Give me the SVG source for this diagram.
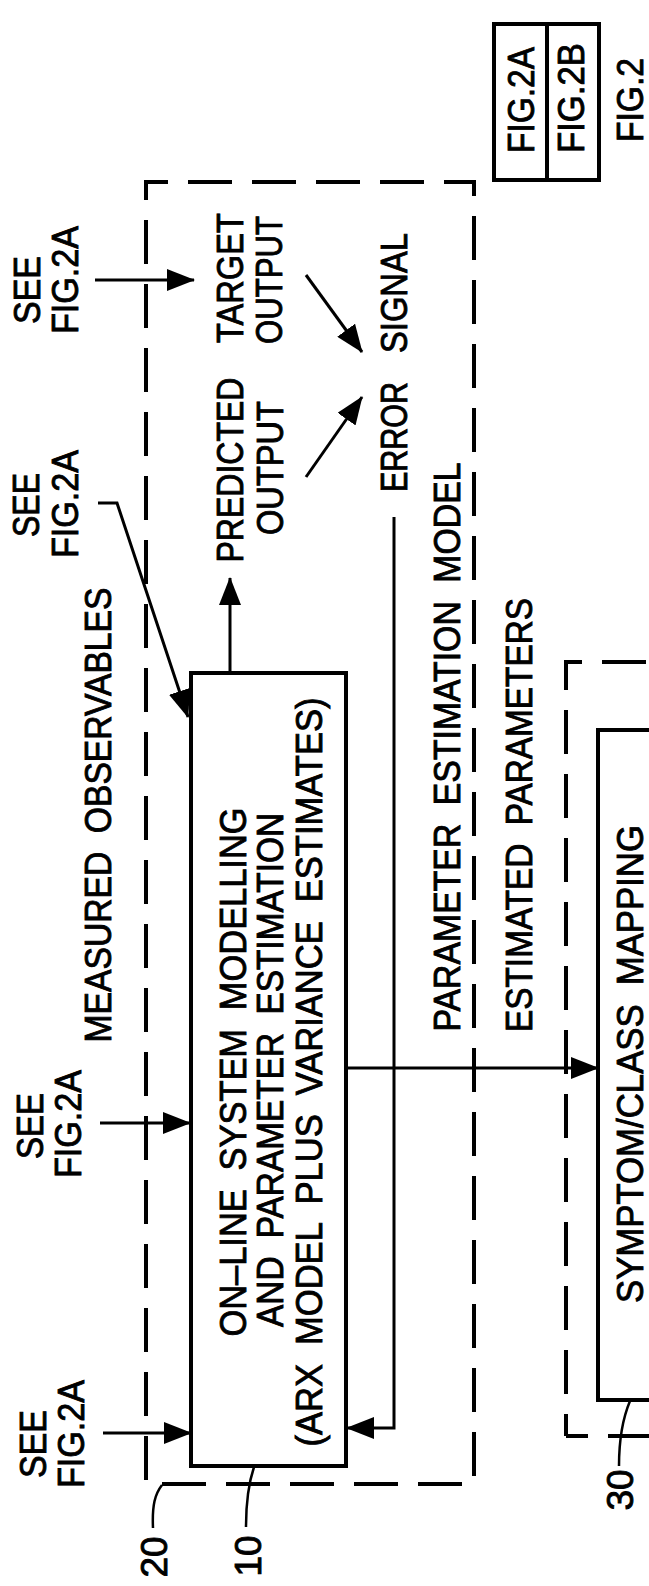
<svg xmlns="http://www.w3.org/2000/svg" width="649" height="1586" viewBox="0 0 649 1586">
<style>
.t{font-family:"Liberation Sans",Arial,Helvetica,sans-serif;font-size:37px;fill:#000;stroke:#000;stroke-width:0.9;word-spacing:10px}
.box{fill:none;stroke:#000;stroke-width:4}
.dash{fill:none;stroke:#000;stroke-width:4;stroke-dasharray:44 20}
.c{fill:none;stroke:#000;stroke-width:3}
.ld{fill:none;stroke:#000;stroke-width:2.5}
</style>
<defs>
<marker id="ah" markerUnits="userSpaceOnUse" viewBox="0 0 28 22" markerWidth="28" markerHeight="22" refX="27" refY="11" orient="auto"><path d="M0,0 L28,11 L0,22 z" fill="#000"/></marker>
</defs>
<rect width="649" height="1586" fill="#fff"/>

<g id="fig-key">
<rect class="box" x="494" y="24" width="105" height="156"/>
<line class="box" x1="547" y1="24" x2="547" y2="180"/>
<text class="t" transform="translate(521,100) rotate(-90)" y="13" text-anchor="middle" textLength="106" lengthAdjust="spacingAndGlyphs">FIG.2A</text>
<text class="t" transform="translate(571,98) rotate(-90)" y="13" text-anchor="middle" textLength="110" lengthAdjust="spacingAndGlyphs">FIG.2B</text>
<text class="t" transform="translate(630,100) rotate(-90)" y="13" text-anchor="middle" textLength="84" lengthAdjust="spacingAndGlyphs">FIG.2</text>
</g>

<g id="node-20">
<path class="dash" d="M146,182 H474 V1484 H146 Z" stroke-dashoffset="22"/>
<text class="t" transform="translate(154,1557) rotate(-90)" y="13" text-anchor="middle">20</text>
<path class="ld" d="M153,1528 C152,1505 155,1494 162,1485"/>
<text class="t" transform="translate(394,437) rotate(-90)" y="13" text-anchor="middle" textLength="110" lengthAdjust="spacingAndGlyphs">ERROR</text>
<text class="t" transform="translate(394,293) rotate(-90)" y="13" text-anchor="middle" textLength="120" lengthAdjust="spacingAndGlyphs">SIGNAL</text>
<text class="t" transform="translate(447,747) rotate(-90)" y="13" text-anchor="middle" textLength="569" lengthAdjust="spacingAndGlyphs">PARAMETER ESTIMATION MODEL</text>
<text class="t" transform="translate(230,278) rotate(-90)" y="13" text-anchor="middle" textLength="130" lengthAdjust="spacingAndGlyphs">TARGET</text>
<text class="t" transform="translate(269,280) rotate(-90)" y="13" text-anchor="middle" textLength="128" lengthAdjust="spacingAndGlyphs">OUTPUT</text>
<text class="t" transform="translate(230,470) rotate(-90)" y="13" text-anchor="middle" textLength="185" lengthAdjust="spacingAndGlyphs">PREDICTED</text>
<text class="t" transform="translate(270,468) rotate(-90)" y="13" text-anchor="middle" textLength="134" lengthAdjust="spacingAndGlyphs">OUTPUT</text>
</g>

<g id="node-10">
<rect class="box" x="191" y="673" width="155" height="793"/>
<text class="t" transform="translate(233,1072) rotate(-90)" y="13" text-anchor="middle" textLength="529" lengthAdjust="spacingAndGlyphs">ON–LINE SYSTEM MODELLING</text>
<text class="t" transform="translate(270,1070) rotate(-90)" y="13" text-anchor="middle" textLength="514" lengthAdjust="spacingAndGlyphs">AND PARAMETER ESTIMATION</text>
<text class="t" transform="translate(309,1072) rotate(-90)" y="13" text-anchor="middle" textLength="749" lengthAdjust="spacingAndGlyphs">(ARX MODEL PLUS VARIANCE ESTIMATES)</text>
<text class="t" transform="translate(248,1556) rotate(-90)" y="13" text-anchor="middle">10</text>
<path class="ld" d="M246,1527 C246,1500 249,1482 254,1467"/>
</g>

<g id="node-30">
<path class="dash" d="M566,1436 V662 H700" stroke-dashoffset="22"/>
<path class="dash" d="M566,1436 H700" stroke-dashoffset="22"/>
<path class="box" d="M700,730 H598 V1400 H700"/>
<text class="t" transform="translate(630,1064) rotate(-90)" y="13" text-anchor="middle" textLength="478" lengthAdjust="spacingAndGlyphs">SYMPTOM/CLASS MAPPING</text>
<text class="t" transform="translate(620,1490) rotate(-90)" y="13" text-anchor="middle">30</text>
<path class="ld" d="M619,1466 C619,1440 622,1420 630,1401"/>
</g>

<g id="labels">
<text class="t" transform="translate(27,290) rotate(-90)" y="13" text-anchor="middle" textLength="68" lengthAdjust="spacingAndGlyphs">SEE</text>
<text class="t" transform="translate(65,280) rotate(-90)" y="13" text-anchor="middle" textLength="108" lengthAdjust="spacingAndGlyphs">FIG.2A</text>
<text class="t" transform="translate(26,505) rotate(-90)" y="13" text-anchor="middle" textLength="64" lengthAdjust="spacingAndGlyphs">SEE</text>
<text class="t" transform="translate(65,504) rotate(-90)" y="13" text-anchor="middle" textLength="108" lengthAdjust="spacingAndGlyphs">FIG.2A</text>
<text class="t" transform="translate(30,1126) rotate(-90)" y="13" text-anchor="middle" textLength="66" lengthAdjust="spacingAndGlyphs">SEE</text>
<text class="t" transform="translate(68,1124) rotate(-90)" y="13" text-anchor="middle" textLength="108" lengthAdjust="spacingAndGlyphs">FIG.2A</text>
<text class="t" transform="translate(33,1444) rotate(-90)" y="13" text-anchor="middle" textLength="68" lengthAdjust="spacingAndGlyphs">SEE</text>
<text class="t" transform="translate(71,1434) rotate(-90)" y="13" text-anchor="middle" textLength="108" lengthAdjust="spacingAndGlyphs">FIG.2A</text>
<text class="t" transform="translate(98,815) rotate(-90)" y="13" text-anchor="middle" textLength="455" lengthAdjust="spacingAndGlyphs">MEASURED OBSERVABLES</text>
<text class="t" transform="translate(519,815) rotate(-90)" y="13" text-anchor="middle" textLength="434" lengthAdjust="spacingAndGlyphs">ESTIMATED PARAMETERS</text>
</g>

<g id="connectors">
<path class="c" d="M95,280 H194" marker-end="url(#ah)"/>
<path class="c" d="M98,503 H117 L188,717" marker-end="url(#ah)"/>
<path class="c" d="M100,1123 H190" marker-end="url(#ah)"/>
<path class="c" d="M103,1433 H191" marker-end="url(#ah)"/>
<path class="c" d="M230,673 V578" marker-end="url(#ah)"/>
<path class="c" d="M306,477 L362,397" marker-end="url(#ah)"/>
<path class="c" d="M306,275 L362,352" marker-end="url(#ah)"/>
<path class="c" d="M394,517 V1428 H347" marker-end="url(#ah)"/>
<path class="c" d="M346,1068 H598" marker-end="url(#ah)"/>
</g>
</svg>
